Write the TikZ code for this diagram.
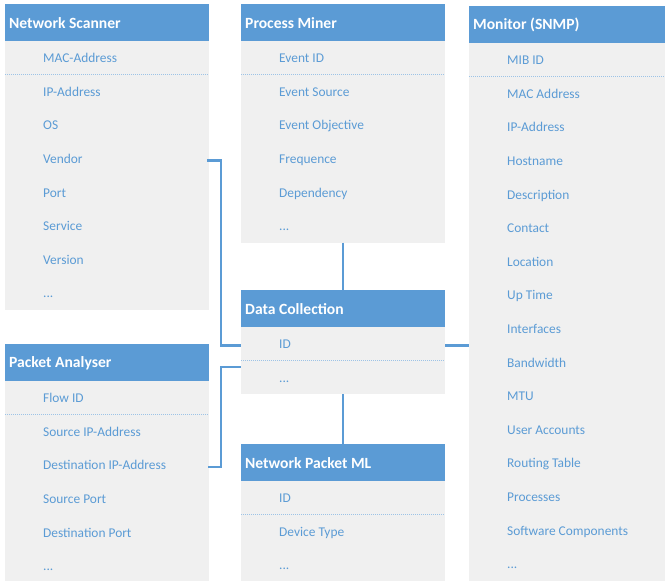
\documentclass[tikz,border=0pt]{standalone}
\usepackage{fontspec}
\setmainfont{Carlito}
\definecolor{hblue}{HTML}{5B9BD5}
\definecolor{bodygray}{HTML}{F0F0F0}
\definecolor{itemblue}{HTML}{5B9BD5}
\definecolor{sepblue}{HTML}{9DC3E6}
\newcommand\ellipx{...}
\tikzset{
  hdr/.style={fill=hblue, draw=none, inner sep=0pt, outer sep=0pt, minimum height=37pt},
  htxt/.style={text=white, font=\bfseries\fontsize{15.6}{17}\selectfont, inner sep=0pt, anchor=west},
  bodybox/.style={fill=bodygray, draw=none, inner sep=0pt, outer sep=0pt},
  item/.style={text=itemblue, font=\fontsize{13.4}{15}\selectfont, inner sep=0pt, anchor=west, text height=9pt, text depth=3pt},
  sepline/.style={draw=sepblue, line width=1pt, dash pattern=on 1pt off 1pt},
  conn/.style={draw=hblue, line width=2.6pt}
}
\newcommand\mktbl[7]{%
  \node[hdr, minimum width=#4pt, anchor=north west] (#1) at (#2,#3) {};
  \node[htxt] (#1-title) at ([xshift=4pt,yshift=-0.5pt]#1.west) {#5};
  \node[bodybox, minimum width=#4pt, minimum height={(#6)*33.6pt}, anchor=north west] (#1-body) at (#1.south west) {};
  \draw[sepline] ([yshift=-33.6pt]#1-body.north west) -- ([yshift=-33.6pt]#1-body.north east);
  \foreach \t [count=\i from 0] in {#7} {
    \node[item] (#1-\i) at ([xshift=38pt, yshift={-18.6pt-\i*33.6pt}]#1-body.north west) {\t};
  }
}
\begin{document}
\begin{tikzpicture}[x=1pt,y=-1pt]
\useasboundingbox (0,0) rectangle (665,581);
\mktbl{ns}{5}{4}{204}{Network Scanner}{8}{MAC-Address,IP-Address,OS,Vendor,Port,Service,Version,\ellipx}
\mktbl{pm}{241}{4}{204}{Process Miner}{6}{Event ID,Event Source,Event Objective,Frequence,Dependency,\ellipx}
\mktbl{mon}{469}{6}{200}{Monitor (SNMP)}{16}{MIB ID,MAC Address,IP-Address,Hostname,Description,Contact,Location,Up Time,Interfaces,Bandwidth,MTU,User Accounts,Routing Table,Processes,Software Components,\ellipx}
\mktbl{dc}{241}{290}{204}{Data Collection}{2}{ID,\ellipx}
\mktbl{pa}{5}{344}{204}{Packet Analyser}{6}{Flow ID,Source IP-Address,Destination IP-Address,Source Port,Destination Port,\ellipx}
\mktbl{npml}{241}{444}{204}{Network Packet ML}{3}{ID,Device Type,\ellipx}
\coordinate (dcin2) at ([yshift=-40pt]dc-body.north west);
\draw[conn] ([xshift=-2pt]ns-3 -| ns.east) -- ++(14,0) |- (dc-0 -| dc.west);
\draw[conn] ([xshift=-1pt]pa-2 -| pa.east) -- ++(13,0) |- (dcin2);
\draw[conn] (pm-body.south) -- (dc.north);
\draw[conn] (dc-body.south) -- (npml.north);
\draw[conn] (dc-0 -| dc.east) -- (dc-0 -| mon.west);
\end{tikzpicture}
\end{document}
